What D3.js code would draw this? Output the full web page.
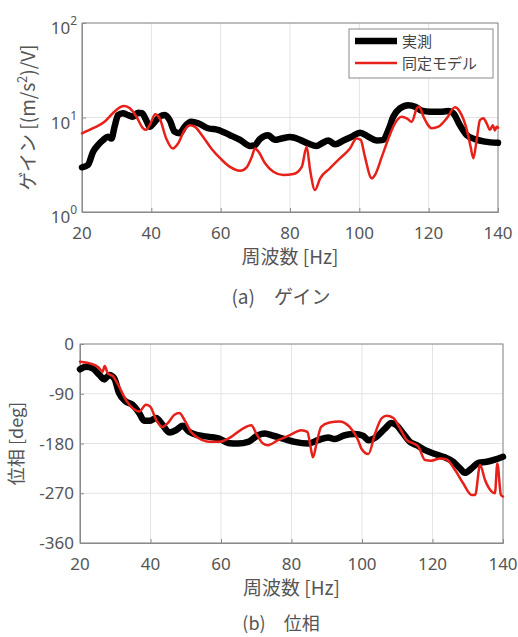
<!DOCTYPE html>
<html>
<head>
<meta charset="utf-8">
<script src="https://cdn.jsdelivr.net/npm/d3@7"></script>
<style>
  body { margin: 0; background: #fff; }
  svg { font-family: "Noto Sans CJK JP", "Noto Sans", sans-serif; }
  text { fill: #555; }
</style>
</head>
<body>
<div class="canvas"></div>
<script>
// Gain data: [frequency Hz, gain]
const gainMeas = [
  [20, 2.97], [21.7, 3.14], [23.2, 4.35], [24.6, 5.1], [26.1, 5.78], [27.5, 6.26],
  [28.5, 6.0], [29.4, 8.0], [30.4, 10.6], [31.8, 11.1], [33.3, 10.6], [34.7, 10.2],
  [36.2, 11.2], [37.3, 11.1], [38.5, 9.4], [39.5, 8.0], [41, 9.0], [42.4, 10.2],
  [43.9, 10.6], [45.3, 9.4], [46.7, 7.1], [48.2, 6.8], [49.6, 8.0], [51.5, 9.0],
  [53.5, 8.7], [56.3, 7.7], [59.2, 7.4], [62.7, 6.5], [65.6, 5.8], [68.5, 5.0],
  [69.9, 5.1], [71.3, 5.9], [73.7, 6.5], [75.6, 5.8], [77.6, 6.0], [80, 6.2],
  [82.9, 5.8], [85.3, 5.3], [87.7, 5.0], [89.1, 5.3], [91.1, 5.7], [93, 5.2],
  [95.4, 5.7], [97.8, 6.26], [100.2, 6.9], [102.6, 6.26], [105, 5.7], [106.9, 5.8],
  [108.4, 7.4], [109.8, 10.2], [111.7, 12.5], [114.1, 13.5], [116.1, 13.0], [118, 11.8],
  [120.4, 11.5], [123.3, 11.5], [125.7, 11.7], [127.1, 11.1], [129, 8.3], [131, 6.5],
  [133.4, 5.9], [136.2, 5.55], [140, 5.4]
];

const gainModel = [
  [20, 6.8], [23.2, 7.7], [26.5, 9.0], [28.9, 11.1], [30.9, 12.8], [32.3, 13.2],
  [33.8, 12.5], [35.7, 10.2], [37.6, 7.7], [38.5, 7.4], [39.8, 8.7], [41.1, 10.8],
  [42.4, 9.8], [44.3, 6.0], [46.2, 4.7], [47.7, 5.3], [49.6, 7.4], [51.1, 8.3],
  [52.5, 8.0], [54.9, 6.26], [57.3, 4.7], [60.2, 3.6], [62.7, 3.0], [65.6, 2.73],
  [67.5, 2.97], [69, 3.85], [69.9, 4.7], [70.9, 4.35], [72.8, 3.28], [75.2, 2.67],
  [78.1, 2.46], [81, 2.52], [83.4, 3.0], [84.8, 4.9], [85.8, 2.78], [87.2, 1.71],
  [88.7, 2.27], [91.5, 2.9], [94.4, 3.7], [97.3, 4.7], [99.2, 6.0], [100.4, 5.8],
  [101.6, 3.85], [103.6, 2.27], [104.5, 2.46], [106.5, 3.85], [108.4, 6.0], [110.3, 8.7],
  [112.2, 10.2], [113.7, 9.8], [115.1, 9.0], [116.6, 12.5], [117.3, 13.0], [118.5, 10.2],
  [120.9, 7.7], [122.8, 8.0], [125.2, 9.8], [127.6, 12.8], [129, 11.5], [131, 7.4],
  [132.1, 4.9], [132.9, 3.7], [133.9, 6.0], [134.8, 9.4], [135.8, 9.8], [136.7, 8.7],
  [137.7, 7.4], [138.5, 8.3], [139.1, 7.3], [139.6, 8.0], [140, 7.8]
];

// Phase data: [frequency Hz, phase deg]
const phaseMeas = [
  [20, -45.8], [21.7, -41], [23.6, -44], [25.5, -56], [26.9, -64], [28.3, -56],
  [29.7, -62], [31.1, -89], [33, -104], [34.9, -110], [36.8, -125], [38.2, -139],
  [39.7, -139], [41.6, -134], [43.5, -147], [45.3, -160], [47.2, -156], [49.1, -148],
  [51, -159], [53.4, -165], [56.7, -168], [59.5, -171], [62, -179], [64.8, -180],
  [67.7, -177], [70.5, -165], [72.4, -162], [74.8, -166], [78.1, -172], [80.9, -177],
  [84.7, -180], [87.5, -174], [90.4, -169], [92.2, -172], [95.1, -165], [97.9, -163],
  [100.3, -166], [101.8, -174], [104.1, -168], [106.5, -153], [108.4, -143], [109.8, -147],
  [111.7, -162], [113.6, -177], [115.5, -183], [117.9, -192], [120.7, -199], [123.5, -205],
  [125.9, -213], [127.8, -225], [129.2, -233], [131.1, -225], [133, -215], [135.4, -213],
  [137.7, -209], [140, -204]
];

const phaseModel = [
  [20, -32], [22.8, -35], [25.2, -42], [26.4, -50], [27, -40], [27.9, -53],
  [29.3, -58], [31.1, -77], [33, -101], [34.9, -116], [36.8, -122], [38.7, -110],
  [39.9, -113], [41.6, -137], [43.3, -150], [44.9, -143], [46.8, -128], [48.2, -125],
  [49.6, -137], [51.5, -159], [53.8, -171], [56.7, -177], [59.5, -177], [62.9, -168],
  [66.2, -153], [68.6, -147], [70, -162], [71.9, -180], [73.3, -183], [76.2, -174],
  [79.5, -165], [82.8, -156], [84.5, -159], [85.4, -186], [86.1, -205], [87.1, -180],
  [88.4, -150], [90.8, -142], [93.6, -140], [96.5, -150], [98.9, -174], [99.9, -190],
  [101.8, -199], [103.7, -162], [105.6, -134], [107, -130], [108.9, -134], [110.8, -153],
  [112.7, -174], [114.6, -180], [116, -186], [117.9, -210], [119.7, -211], [122.1, -207],
  [124, -209], [126.4, -228], [128.7, -252], [131.1, -273], [132.1, -273], [133.5, -219],
  [134.9, -246], [136.8, -267], [137.7, -270], [138.4, -216], [139.4, -273], [140, -276]
];

const freqTicks = [20, 40, 60, 80, 100, 120, 140];
const gainTicks = [1, 10, 100];
const phaseTicks = [0, -90, -180, -270, -360];
const legendLabels = ['実測', '同定モデル'];

const measColor = '#000';
const modelColor = '#e8201a';

const svg = d3.select('.canvas')
    .append('svg')
    .attr('width', 518)
    .attr('height', 637);

// Panel (a): gain
const boxA = {left: 82, right: 498, top: 23, bottom: 212};
const xg = d3.scaleLinear().domain([20, 140]).range([boxA.left, boxA.right]);
const yg = d3.scaleLog().domain([1, 100]).range([boxA.bottom, boxA.top]);

// Panel (b): phase
const boxB = {left: 80, right: 503, top: 344, bottom: 543};
const xp = d3.scaleLinear().domain([20, 140]).range([boxB.left, boxB.right]);
const yp = d3.scaleLinear().domain([-360, 0]).range([boxB.bottom, boxB.top]);

const drawFrame = (box, x, y, yTicks) => {
    const g = svg.append('g');
    // grid
    g.selectAll('.vgrid').data(freqTicks).enter().append('line')
        .attr('x1', d => x(d)).attr('x2', d => x(d))
        .attr('y1', box.top).attr('y2', box.bottom)
        .attr('stroke', '#e3e3e3').attr('stroke-width', 1);
    g.selectAll('.hgrid').data(yTicks).enter().append('line')
        .attr('x1', box.left).attr('x2', box.right)
        .attr('y1', d => y(d)).attr('y2', d => y(d))
        .attr('stroke', '#e3e3e3').attr('stroke-width', 1);

    // axes with inward ticks
    const xAxis = d3.axisBottom(x).tickValues(freqTicks).tickSize(-4).tickFormat('');
    const yAxis = d3.axisLeft(y).tickValues(yTicks).tickSize(-4).tickFormat('');
    g.append('g').attr('transform', `translate(0, ${box.bottom})`).call(xAxis);
    g.append('g').attr('transform', `translate(${box.left}, 0)`).call(yAxis);
    g.selectAll('.domain, .tick line').attr('stroke', '#8a8a8a');

    g.append('rect')
        .attr('x', box.left).attr('y', box.top)
        .attr('width', box.right - box.left).attr('height', box.bottom - box.top)
        .attr('fill', 'none').attr('stroke', '#8a8a8a').attr('stroke-width', 1);

    g.selectAll('.xlab').data(freqTicks).enter().append('text')
        .attr('x', d => x(d)).attr('y', box.bottom + 27)
        .attr('text-anchor', 'middle')
        .style('font-size', '17px')
        .style('font-family', 'Noto Sans')
        .text(d => d);
    return g;
};

const plotLayer = (x, y, data, color, width) => {
    const line = d3.line()
        .x(d => x(d[0]))
        .y(d => y(d[1]))
        .curve(d3.curveMonotoneX);
    svg.append('path')
        .datum(data)
        .attr('fill', 'none')
        .attr('stroke', color)
        .attr('stroke-width', width)
        .attr('stroke-linejoin', 'round')
        .attr('stroke-linecap', 'round')
        .attr('d', line);
};

// ---- panel (a)
drawFrame(boxA, xg, yg, gainTicks);
gainTicks.forEach(t => {
    const lab = svg.append('text')
        .attr('x', boxA.left - 5).attr('y', yg(t) + 11)
        .attr('text-anchor', 'end')
        .style('font-size', '17px')
        .style('font-family', 'Noto Sans');
    lab.append('tspan').text('10');
    lab.append('tspan').attr('dy', -9).style('font-size', '12px').text(Math.round(Math.log10(t)));
});
plotLayer(xg, yg, gainMeas, measColor, 6.5);
plotLayer(xg, yg, gainModel, modelColor, 2.5);

// legend
const lg = svg.append('g');
lg.append('rect')
    .attr('x', 349).attr('y', 29).attr('width', 144).attr('height', 49)
    .attr('fill', '#fff').attr('stroke', '#8a8a8a');
[measColor, modelColor].forEach((c, i) => {
    lg.append('line')
        .attr('x1', 355).attr('x2', 397)
        .attr('y1', 41 + i * 22).attr('y2', 41 + i * 22)
        .attr('stroke', c).attr('stroke-width', i === 0 ? 6.5 : 2.5);
    lg.append('text')
        .attr('x', 402).attr('y', 46.5 + i * 22)
        .style('font-size', '15px')
        .style('fill', '#444')
        .text(legendLabels[i]);
});

svg.append('text')
    .attr('x', (boxA.left + boxA.right) / 2).attr('y', 264)
    .attr('text-anchor', 'middle')
    .style('font-size', '19px')
    .text('周波数 [Hz]');

const yt = svg.append('text')
    .attr('transform', `translate(35, ${(boxA.top + boxA.bottom) / 2}) rotate(-90)`)
    .attr('text-anchor', 'middle')
    .style('font-size', '19px');
yt.append('tspan').text('ゲイン [(m/s');
yt.append('tspan').attr('dy', -8).style('font-size', '13px').text('2');
yt.append('tspan').attr('dy', 8).text(')/V]');

svg.append('text')
    .attr('x', 281).attr('y', 304)
    .attr('text-anchor', 'middle')
    .style('font-size', '19px')
    .text('(a)　ゲイン');

// ---- panel (b)
drawFrame(boxB, xp, yp, phaseTicks);
svg.selectAll('.plab').data(phaseTicks).enter().append('text')
    .attr('x', boxB.left - 6).attr('y', d => yp(d) + 6)
    .attr('text-anchor', 'end')
    .style('font-size', '17px')
    .style('font-family', 'Noto Sans')
    .text(d => d === 0 ? '0' : '-' + Math.abs(d));
plotLayer(xp, yp, phaseMeas, measColor, 6.5);
plotLayer(xp, yp, phaseModel, modelColor, 2.5);

svg.append('text')
    .attr('x', (boxB.left + boxB.right) / 2).attr('y', 595)
    .attr('text-anchor', 'middle')
    .style('font-size', '19px')
    .text('周波数 [Hz]');

svg.append('text')
    .attr('transform', `translate(23, ${(boxB.top + boxB.bottom) / 2}) rotate(-90)`)
    .attr('text-anchor', 'middle')
    .style('font-size', '18px')
    .text('位相 [deg]');

svg.append('text')
    .attr('x', 281).attr('y', 630)
    .attr('text-anchor', 'middle')
    .style('font-size', '18px')
    .text('(b)　位相');
</script>
</body>
</html>
